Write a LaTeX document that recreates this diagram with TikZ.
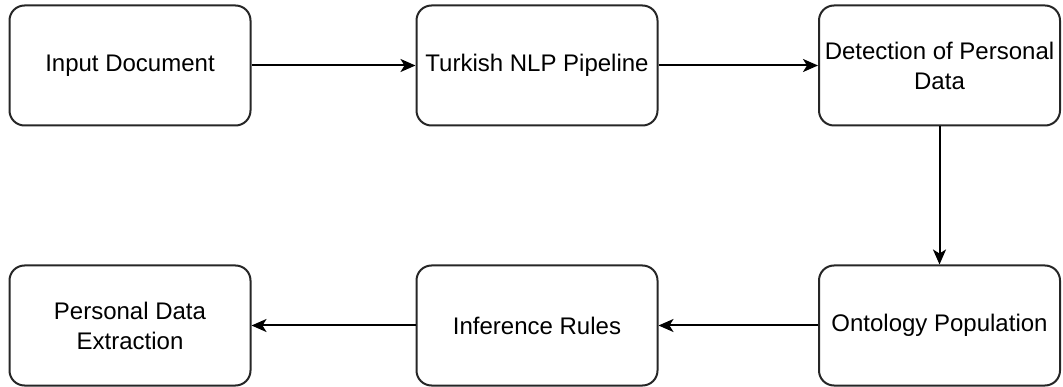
\documentclass[tikz,border=0pt]{standalone}
\usepackage{fontspec}
\setmainfont{Liberation Sans}
\usetikzlibrary{arrows.meta}
\begin{document}
\begin{tikzpicture}[x=1pt,y=-1pt,
  stage/.style={draw=black!85, line width=2pt, rounded corners=15pt,
    minimum width=241pt, minimum height=120pt, inner sep=0pt,
    align=center, font=\fontsize{24}{30}\selectfont},
  flow/.style={line width=2pt, draw=black,
    -{Stealth[length=15pt,width=13pt,inset=4pt]}}]
\useasboundingbox (0,0) rectangle (1063,387);
% top row
\node[stage] (input)  at (130,65.5)   {Input Document};
\node[stage] (nlp)    at (537,65.5)   {Turkish NLP Pipeline};
\node[stage] (detect) at (939.5,65.5) {Detection of Personal\\Data};
% bottom row
\node[stage] (onto)   at (939.5,325.5) {Ontology Population};
\node[stage] (rules)  at (537,325.5)   {Inference Rules};
\node[stage] (extract) at (130,325.5)  {Personal Data\\Extraction};
% connectors
\draw[flow] (input) -- (nlp);
\draw[flow] (nlp) -- (detect);
\draw[flow] (detect) -- (onto);
\draw[flow] (onto) -- (rules);
\draw[flow] (rules) -- (extract);
\end{tikzpicture}
\end{document}
